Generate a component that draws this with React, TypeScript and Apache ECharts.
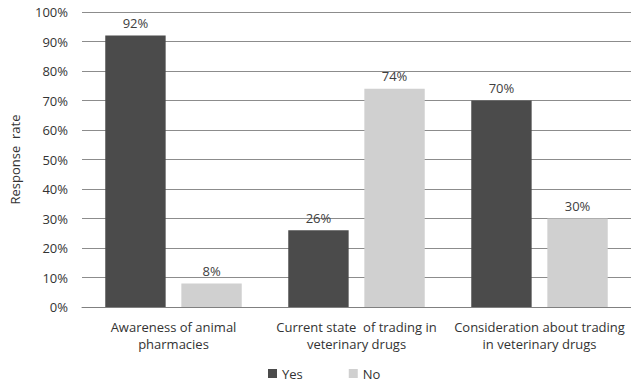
import React, { useEffect, useRef } from "react";
import * as echarts from "echarts";

const categories = [
  "Awareness of animal\npharmacies",
  "Current state  of trading in\nveterinary drugs",
  "Consideration about trading\nin veterinary drugs",
];
const yesValues = [92, 26, 70];
const noValues = [8, 74, 30];

const FONT = "Open Sans";

export default function App() {
  const ref = useRef<HTMLDivElement>(null);
  useEffect(() => {
    if (!ref.current) return;
    const chart = echarts.init(ref.current, null, { renderer: "svg" });
    chart.setOption({
      animation: false,
      textStyle: { fontFamily: FONT },
      grid: { left: 80, right: 0, top: 12, bottom: 76 },
      legend: {
        bottom: -2,
        left: 263,
        itemWidth: 9,
        itemHeight: 9,
        itemGap: 46,
        icon: "rect",
        textStyle: { fontFamily: FONT, fontSize: 13, color: "#333" },
        data: ["Yes", "No"],
      },
      xAxis: {
        type: "category",
        data: categories,
        axisTick: { show: false },
        axisLine: { lineStyle: { color: "#808080", width: 1 } },
        axisLabel: {
          fontFamily: FONT,
          fontSize: 13,
          color: "#333",
          margin: 11,
          lineHeight: 17,
          interval: 0,
        },
      },
      yAxis: {
        type: "value",
        min: 0,
        max: 100,
        interval: 10,
        name: "Response  rate",
        nameLocation: "middle",
        nameGap: 61,
        nameTextStyle: { fontFamily: FONT, fontSize: 13, color: "#333" },
        axisLabel: {
          formatter: "{value}%",
          fontFamily: FONT,
          fontSize: 13,
          color: "#333",
          margin: 14,
        },
        splitLine: { lineStyle: { color: "#8c8c8c", width: 1 } },
        axisLine: { show: false },
        axisTick: { show: false },
      },
      series: [
        {
          name: "Yes",
          type: "bar",
          data: yesValues,
          barWidth: "33%",
          barGap: "26%",
          itemStyle: { color: "#4b4b4b" },
          label: {
            show: true,
            position: "top",
            distance: 6,
            formatter: "{c}%",
            fontFamily: FONT,
            fontSize: 13,
            color: "#404040",
          },
        },
        {
          name: "No",
          type: "bar",
          data: noValues,
          barWidth: "33%",
          itemStyle: { color: "#d0d0d0" },
          label: {
            show: true,
            position: "top",
            distance: 6,
            formatter: "{c}%",
            fontFamily: FONT,
            fontSize: 13,
            color: "#404040",
          },
        },
      ],
    });
    return () => chart.dispose();
  }, []);
  return <div ref={ref} style={{ width: 631, height: 383, position: "absolute", left: 0, top: 0 }} />;
}
